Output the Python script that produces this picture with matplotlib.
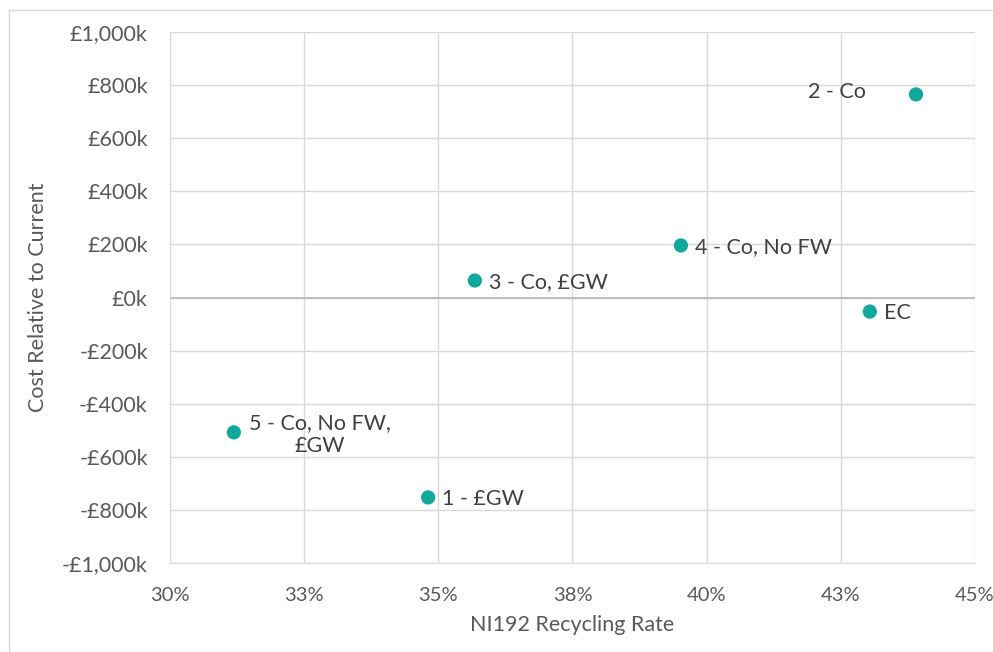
import matplotlib
matplotlib.use('Agg')
import matplotlib.pyplot as plt
from matplotlib.patches import Rectangle

# data
names = ['1 - £GW', '2 - Co', '3 - Co, £GW', '4 - Co, No FW', '5 - Co, No FW,\n£GW', 'EC']
rate = [34.81, 43.9, 35.68, 39.52, 31.19, 43.04]          # NI192 recycling rate, %
cost = [-753, 765, 64, 196, -508, -53]                     # cost relative to current, £k

x_ticks = [30, 32.5, 35, 37.5, 40, 42.5, 45]
x_tick_labels = ['30%', '33%', '35%', '38%', '40%', '43%', '45%']
y_ticks = [-1000, -800, -600, -400, -200, 0, 200, 400, 600, 800, 1000]
y_tick_labels = ['-£1,000k', '-£800k', '-£600k', '-£400k', '-£200k', '£0k',
                 '£200k', '£400k', '£600k', '£800k', '£1,000k']

text_col = '#595959'
grid_col = '#d9d9d9'
dot_col = '#0fa89b'
fs = 15.5

plt.rcParams['font.family'] = ['Lato', 'DejaVu Sans']

fig = plt.figure(figsize=(9.93, 6.52), dpi=100)
fig.patches.append(Rectangle((9 / 993, 0), 1.0, 1 - 10 / 652, transform=fig.transFigure,
                             fill=False, edgecolor=grid_col, linewidth=1))

ax = fig.add_axes([170 / 993, 89 / 652, 805 / 993, 531 / 652])
ax.scatter(rate, cost, s=105, color=dot_col, zorder=3, edgecolors='none')

# labels: "2 - Co" sits left of its point, the rest to the right
for n, x, y in zip(names, rate, cost):
    if n.startswith('2'):
        ax.annotate(n, (x, y), xytext=(-36, 1.5), textcoords='offset points',
                    ha='right', va='center', fontsize=fs, color='#404040')
    elif n.startswith('5'):
        ax.annotate(n, (x, y), xytext=(11, -1.5), textcoords='offset points',
                    ha='left', va='center', multialignment='center',
                    fontsize=fs, color='#404040', linespacing=1.2)
    else:
        ax.annotate(n, (x, y), xytext=(10, -1), textcoords='offset points',
                    ha='left', va='center', fontsize=fs, color='#404040')

ax.set_xlim(30, 45)
ax.set_ylim(-1000, 1000)
ax.set_xticks(x_ticks)
ax.set_xticklabels(x_tick_labels)
ax.set_yticks(y_ticks)
ax.set_yticklabels(y_tick_labels)
ax.tick_params(length=0, colors=text_col)
ax.tick_params(axis='y', pad=16, labelsize=fs)
ax.tick_params(axis='x', pad=17, labelsize=14.5)
ax.grid(True, color=grid_col, linewidth=1)
ax.set_axisbelow(True)
ax.axhline(0, color='#bfbfbf', linewidth=1.5, zorder=2)

for side in ['top', 'right']:
    ax.spines[side].set_visible(False)
for side in ['left', 'bottom']:
    ax.spines[side].set_color(grid_col)

ax.set_xlabel('NI192 Recycling Rate', fontsize=fs, color=text_col, labelpad=8)
ax.set_ylabel('Cost Relative to Current', fontsize=fs, color=text_col, labelpad=10)

fig.savefig('out.png', dpi=100)
